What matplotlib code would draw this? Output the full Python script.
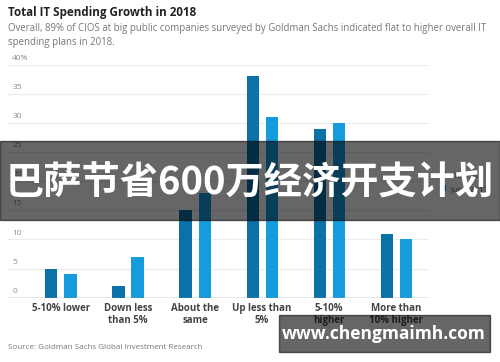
import matplotlib
matplotlib.use("Agg")
import matplotlib.pyplot as plt
import numpy as np
from matplotlib.patches import Rectangle

# ── data ─────────────────────────────────────────────────────────────────────
categories = ["5-10% lower", "Down less\nthan 5%", "About the\nsame",
              "Up less than\n5%", "5-10%\nhigher", "More than\n10% higher"]
dec_2017 = [5, 2, 15, 38, 29, 11]
june_2017 = [4, 7, 18, 31, 30, 10]
series_names = ["Dec. 2017", "June 2017"]
y_ticks = [0, 5, 10, 15, 20, 25, 30, 35, 40]
y_tick_labels = ["0", "5", "10", "15", "20", "25", "30", "35", "40%"]

DARK = "#0b72a8"
LIGHT = "#149cdc"
FONT = ["Open Sans", "DejaVu Sans"]
plt.rcParams["font.family"] = FONT

fig = plt.figure(figsize=(5, 3.62), dpi=100)
fig.patch.set_facecolor("white")
ax = fig.add_axes([0.016, 0.1776, 0.842, 0.6442])

x = np.arange(len(categories))
w = 0.18
off = 0.142
b1 = ax.bar(x - off, dec_2017, w, color=DARK, label=series_names[0], zorder=3)
b2 = ax.bar(x + off, june_2017, w, color=LIGHT, label=series_names[1], zorder=3)

ax.set_xlim(-0.79, 5.49)
ax.set_ylim(0, 40)
for v in y_ticks[1:]:
    ax.axhline(v, color="#ececec", linewidth=0.8, zorder=1)
ax.axhline(0, color="#8a8a8a", linewidth=1.0, zorder=4)

for v, lab in zip(y_ticks, y_tick_labels):
    ax.annotate(lab, (0, v), xycoords=("axes fraction", "data"),
                xytext=(3, 2), textcoords="offset points",
                ha="left", va="bottom", fontsize=6, color="#8c8c8c")

ax.set_xticks(x)
ax.set_xticklabels(categories, fontsize=7, fontweight="bold", color="#444444",
                   linespacing=1.15)
ax.tick_params(axis="x", length=0, pad=4)
ax.set_yticks([])
for s in ax.spines.values():
    s.set_visible(False)

# legend (sits behind the banner)
leg = fig.legend(handles=[b1, b2], labels=series_names, loc="upper left",
                 bbox_to_anchor=(0.865, 0.545), frameon=False, fontsize=6,
                 handlelength=0.7, handleheight=0.7, handletextpad=0.6,
                 labelspacing=0.6, labelcolor="#666666")

# ── titles ───────────────────────────────────────────────────────────────────
fig.text(0.016, 0.965, "Total IT Spending Growth in 2018", fontsize=8.4,
         fontweight="bold", color="#222222", va="center")
fig.text(0.016, 0.903,
         "Overall, 89% of CIOS at big public companies surveyed by Goldman Sachs indicated flat to higher overall IT\nspending plans in 2018.",
         fontsize=6.95, color="#777777", va="center", linespacing=1.35)
fig.text(0.016, 0.04, "Source: Goldman Sachs Global Investment Research",
         fontsize=5.8, color="#777777", va="center")

# ── overlays ─────────────────────────────────────────────────────────────────
fig.patches.append(Rectangle((0, 1 - 220 / 362), 1, 79 / 362,
                             transform=fig.transFigure, color="black",
                             alpha=0.6, zorder=10))
fig.text(0.5, 1 - 183 / 362, "巴萨节省600万经济开支计划", fontsize=27.5,
         fontweight="heavy", color="white", ha="center", va="center",
         family=["Noto Sans CJK SC", "DejaVu Sans"], zorder=11)
fig.patches.append(Rectangle((279 / 500, 1 - 352 / 362), 211 / 500, 37 / 362,
                             transform=fig.transFigure, color="black",
                             alpha=0.6, zorder=10))
fig.text(384 / 500, 1 - 334 / 362, "www.chengmaimh.com", fontsize=12.5,
         fontweight="bold", color="white", ha="center", va="center",
         family=["Open Sans", "DejaVu Sans"], zorder=11)

fig.savefig("out.png", dpi=100, facecolor="white")
